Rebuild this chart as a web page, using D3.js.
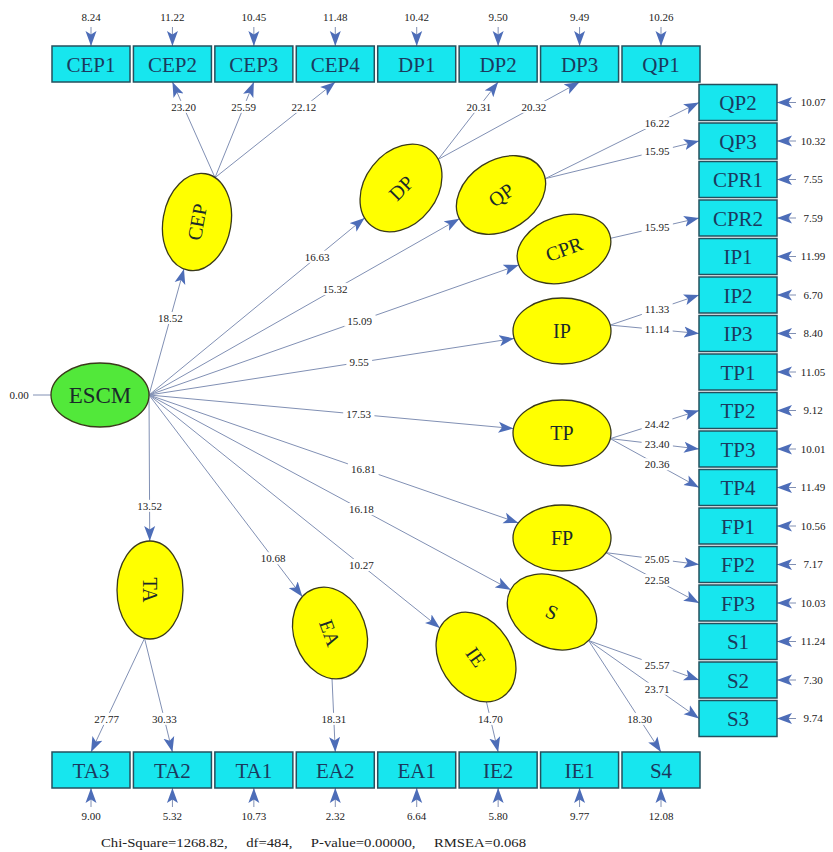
<!DOCTYPE html>
<html lang="en">
<head>
<meta charset="utf-8">
<script src="https://cdn.jsdelivr.net/npm/d3@7"></script>
<style>
  body { margin: 0; background: #fff; }
</style>
</head>
<body>
<div id="chart"></div>
<script>
// observed variables and their error t-values
let topVars = ['CEP1', 'CEP2', 'CEP3', 'CEP4', 'DP1', 'DP2', 'DP3', 'QP1']
let topErr = [8.24, 11.22, 10.45, 11.48, 10.42, 9.50, 9.49, 10.26]
let rightVars = ['QP2', 'QP3', 'CPR1', 'CPR2', 'IP1', 'IP2', 'IP3', 'TP1', 'TP2', 'TP3', 'TP4', 'FP1', 'FP2', 'FP3', 'S1', 'S2', 'S3']
let rightErr = [10.07, 10.32, 7.55, 7.59, 11.99, 6.70, 8.40, 11.05, 9.12, 10.01, 11.49, 10.56, 7.17, 10.03, 11.24, 7.30, 9.74]
let bottomVars = ['TA3', 'TA2', 'TA1', 'EA2', 'EA1', 'IE2', 'IE1', 'S4']
let bottomErr = [9.00, 5.32, 10.73, 2.32, 6.64, 5.80, 9.77, 12.08]

// latent variables, ESCM -> latent t-values
let latents = ['CEP', 'DP', 'QP', 'CPR', 'IP', 'TP', 'FP', 'S', 'IE', 'EA', 'TA']
let pathT = [18.52, 16.63, 15.32, 15.09, 9.55, 17.53, 16.81, 16.18, 10.27, 10.68, 13.52]
let escmErr = 0.00

// loadings, latent -> indicator t-values
let loadFrom = ['CEP', 'CEP', 'CEP', 'DP', 'DP', 'QP', 'QP', 'CPR', 'IP', 'IP', 'TP', 'TP', 'TP', 'FP', 'FP', 'S', 'S', 'S', 'TA', 'TA', 'EA', 'IE']
let loadTo = ['CEP2', 'CEP3', 'CEP4', 'DP2', 'DP3', 'QP2', 'QP3', 'CPR2', 'IP2', 'IP3', 'TP2', 'TP3', 'TP4', 'FP2', 'FP3', 'S2', 'S3', 'S4', 'TA3', 'TA2', 'EA2', 'IE2']
let loadT = [23.20, 25.59, 22.12, 20.31, 20.32, 16.22, 15.95, 15.95, 11.33, 11.14, 24.42, 23.40, 20.36, 25.05, 22.58, 25.57, 23.71, 18.30, 27.77, 30.33, 18.31, 14.70]

let fitText = 'Chi-Square=1268.82,     df=484,     P-value=0.00000,     RMSEA=0.068'

// ---- layout ----
let w = 833, h = 852
let boxW = 78, boxH = 36
let topY = 46, bottomY = 752, rightX = 699
let xScale = d3.scalePoint().domain(d3.range(topVars.length)).range([91, 661])
let yScale = d3.scalePoint().domain(d3.range(rightVars.length)).range([102.5, 718.5])

// centre, radii, tilt of ellipse, angle of its text
let shape = {
    ESCM: {x: 100, y: 395, rx: 49, ry: 32, rot: 0, txt: 0},
    CEP: {x: 197, y: 222, rx: 34, ry: 49, rot: 10, txt: -80},
    DP: {x: 401, y: 188, rx: 36, ry: 48, rot: 38, txt: -45},
    QP: {x: 501, y: 195, rx: 48, ry: 35, rot: -33, txt: -35},
    CPR: {x: 564, y: 249, rx: 48, ry: 33, rot: -18, txt: -20},
    IP: {x: 562, y: 331, rx: 49, ry: 33, rot: 0, txt: 0},
    TP: {x: 562, y: 433, rx: 49, ry: 33, rot: 0, txt: 0},
    FP: {x: 562, y: 538, rx: 49, ry: 33, rot: 0, txt: 0},
    S: {x: 552, y: 612, rx: 47, ry: 35, rot: 28, txt: 25},
    IE: {x: 476, y: 657, rx: 36, ry: 48, rot: -33, txt: 55},
    EA: {x: 330, y: 633, rx: 36, ry: 47, rot: -20, txt: 70},
    TA: {x: 150, y: 590, rx: 33, ry: 49, rot: 0, txt: 90}
}
let pathLabelAt = [0.61, 0.78, 0.6, 0.57, 0.575, 0.575, 0.58, 0.587, 0.73, 0.81, 0.76]

let serif = '"Liberation Serif", "Times New Roman", "DejaVu Serif", serif'
let lineColor = '#8190b4'
let arrowColor = '#4d6db8'
let fmt = d3.format('.2f')

// observed nodes: position of box and where incoming loading arrow ends
let obs = {}
topVars.forEach(function(v, i) {
    obs[v] = {x: xScale(i) - boxW / 2, y: topY, side: 'top', ax: xScale(i), ay: topY + boxH, err: topErr[i]}
})
rightVars.forEach(function(v, i) {
    obs[v] = {x: rightX, y: yScale(i) - boxH / 2, side: 'right', ax: rightX, ay: yScale(i), err: rightErr[i]}
})
bottomVars.forEach(function(v, i) {
    obs[v] = {x: xScale(i) - boxW / 2, y: bottomY, side: 'bottom', ax: xScale(i), ay: bottomY, err: bottomErr[i]}
})

// point on a (tilted) ellipse boundary in direction (dx, dy) from centre
function edgePoint(s, dx, dy) {
    let a = s.rot * Math.PI / 180
    let lx = dx * Math.cos(a) + dy * Math.sin(a)
    let ly = -dx * Math.sin(a) + dy * Math.cos(a)
    let k = 1 / Math.sqrt((lx / s.rx) * (lx / s.rx) + (ly / s.ry) * (ly / s.ry))
    return [s.x + k * dx, s.y + k * dy]
}

let svg = d3.select('#chart')
    .append('svg')
    .attr('width', w)
    .attr('height', h)
    .attr('font-family', serif)

svg.append('rect').attr('width', w).attr('height', h).attr('fill', '#fff')

svg.append('defs')
    .append('marker')
    .attr('id', 'arrow')
    .attr('markerUnits', 'userSpaceOnUse')
    .attr('viewBox', '0 0 16 12')
    .attr('markerWidth', 16)
    .attr('markerHeight', 12)
    .attr('refX', 15)
    .attr('refY', 6)
    .attr('orient', 'auto')
    .append('path')
    .attr('d', 'M0,0.5 L15,6 L0,11.5 L3.5,6 Z')
    .attr('fill', arrowColor)

let lines = svg.append('g')
let labels = svg.append('g')
let nodes = svg.append('g')

function addLabel(x, y, txt, anchor) {
    let g = labels.append('g')
    let t = g.append('text')
        .attr('x', x)
        .attr('y', y)
        .attr('dy', '0.35em')
        .attr('text-anchor', anchor || 'middle')
        .attr('font-size', 11)
        .attr('fill', '#222')
        .text(txt)
    let b = t.node().getBBox()
    g.insert('rect', 'text')
        .attr('x', b.x - 3)
        .attr('y', b.y)
        .attr('width', b.width + 6)
        .attr('height', b.height)
        .attr('fill', '#fff')
}

function arrowLine(x1, y1, x2, y2) {
    lines.append('line')
        .attr('x1', x1).attr('y1', y1)
        .attr('x2', x2).attr('y2', y2)
        .attr('stroke', lineColor)
        .attr('stroke-width', 1)
        .attr('marker-end', 'url(#arrow)')
}

// ESCM -> latents
let esc = shape.ESCM
let src = [esc.x + esc.rx, esc.y]
latents.forEach(function(l, i) {
    let s = shape[l]
    let end = edgePoint(s, src[0] - s.x, src[1] - s.y)
    arrowLine(src[0], src[1], end[0], end[1])
    let t = pathLabelAt[i]
    addLabel(src[0] + t * (end[0] - src[0]), src[1] + t * (end[1] - src[1]), fmt(pathT[i]))
})

// latent -> indicators, all leaving one anchor point per latent
let anchors = {}
d3.groups(loadTo.map(function(v, i) { return {from: loadFrom[i], to: v} }), function(d) { return d.from })
    .forEach(function(g) {
        let s = shape[g[0]]
        let mx = d3.mean(g[1], function(d) { return obs[d.to].ax })
        let my = d3.mean(g[1], function(d) { return obs[d.to].ay })
        anchors[g[0]] = edgePoint(s, mx - s.x, my - s.y)
    })

loadTo.forEach(function(v, i) {
    let a = anchors[loadFrom[i]]
    let o = obs[v]
    arrowLine(a[0], a[1], o.ax, o.ay)
    let t
    if (o.side === 'top') t = (a[1] - 107) / (a[1] - o.ay)
    else if (o.side === 'right') t = (657 - a[0]) / (o.ax - a[0])
    else t = (719 - a[1]) / (o.ay - a[1])
    addLabel(a[0] + t * (o.ax - a[0]), a[1] + t * (o.ay - a[1]), fmt(loadT[i]))
})

// error terms of indicators
Object.keys(obs).forEach(function(v) {
    let o = obs[v]
    if (o.side === 'top') {
        arrowLine(o.ax, 27, o.ax, topY)
        addLabel(o.ax, 17, fmt(o.err))
    } else if (o.side === 'right') {
        arrowLine(rightX + boxW + 19, o.ay, rightX + boxW, o.ay)
        addLabel(rightX + boxW + 36, o.ay, fmt(o.err))
    } else {
        arrowLine(o.ax, bottomY + boxH + 19, o.ax, bottomY + boxH)
        addLabel(o.ax, bottomY + boxH + 28, fmt(o.err))
    }
})

// ESCM error
lines.append('line')
    .attr('x1', 33).attr('y1', esc.y)
    .attr('x2', esc.x - esc.rx).attr('y2', esc.y)
    .attr('stroke', lineColor)
labels.append('text')
    .attr('x', 19).attr('y', esc.y).attr('dy', '0.35em')
    .attr('text-anchor', 'middle')
    .attr('font-size', 11)
    .attr('fill', '#222')
    .text(fmt(escmErr))

// boxes
let boxes = nodes.selectAll('g.obs')
    .data(Object.keys(obs))
    .join('g')
    .attr('class', 'obs')
boxes.append('rect')
    .attr('x', function(d) { return obs[d].x })
    .attr('y', function(d) { return obs[d].y })
    .attr('width', boxW)
    .attr('height', boxH)
    .attr('fill', '#17e6ee')
    .attr('stroke', '#25505e')
    .attr('stroke-width', 1.5)
boxes.append('text')
    .attr('x', function(d) { return obs[d].x + boxW / 2 })
    .attr('y', function(d) { return obs[d].y + boxH / 2 })
    .attr('dy', '0.36em')
    .attr('text-anchor', 'middle')
    .attr('font-size', 21)
    .attr('fill', '#1b3a5e')
    .text(function(d) { return d })

// ellipses
let ell = nodes.selectAll('g.lat')
    .data(['ESCM'].concat(latents))
    .join('g')
    .attr('class', 'lat')
    .attr('transform', function(d) { return 'translate(' + shape[d].x + ',' + shape[d].y + ')' })
ell.append('ellipse')
    .attr('transform', function(d) { return 'rotate(' + shape[d].rot + ')' })
    .attr('rx', function(d) { return shape[d].rx })
    .attr('ry', function(d) { return shape[d].ry })
    .attr('fill', function(d) { return d === 'ESCM' ? '#52e83a' : '#ffff00' })
    .attr('stroke', '#3a3a1a')
    .attr('stroke-width', 1.3)
ell.append('text')
    .attr('transform', function(d) { return 'rotate(' + shape[d].txt + ')' })
    .attr('dy', '0.35em')
    .attr('text-anchor', 'middle')
    .attr('font-size', function(d) { return d === 'ESCM' ? 23 : 20 })
    .attr('fill', '#1a2a2a')
    .text(function(d) { return d })

// goodness of fit line
svg.append('text')
    .attr('x', 101)
    .attr('y', 842)
    .attr('dy', '0.35em')
    .attr('font-size', 13.5)
    .attr('fill', '#222')
    .attr('textLength', 425)
    .attr('lengthAdjust', 'spacingAndGlyphs')
    .style('white-space', 'pre')
    .text(fitText)
</script>
</body>
</html>
